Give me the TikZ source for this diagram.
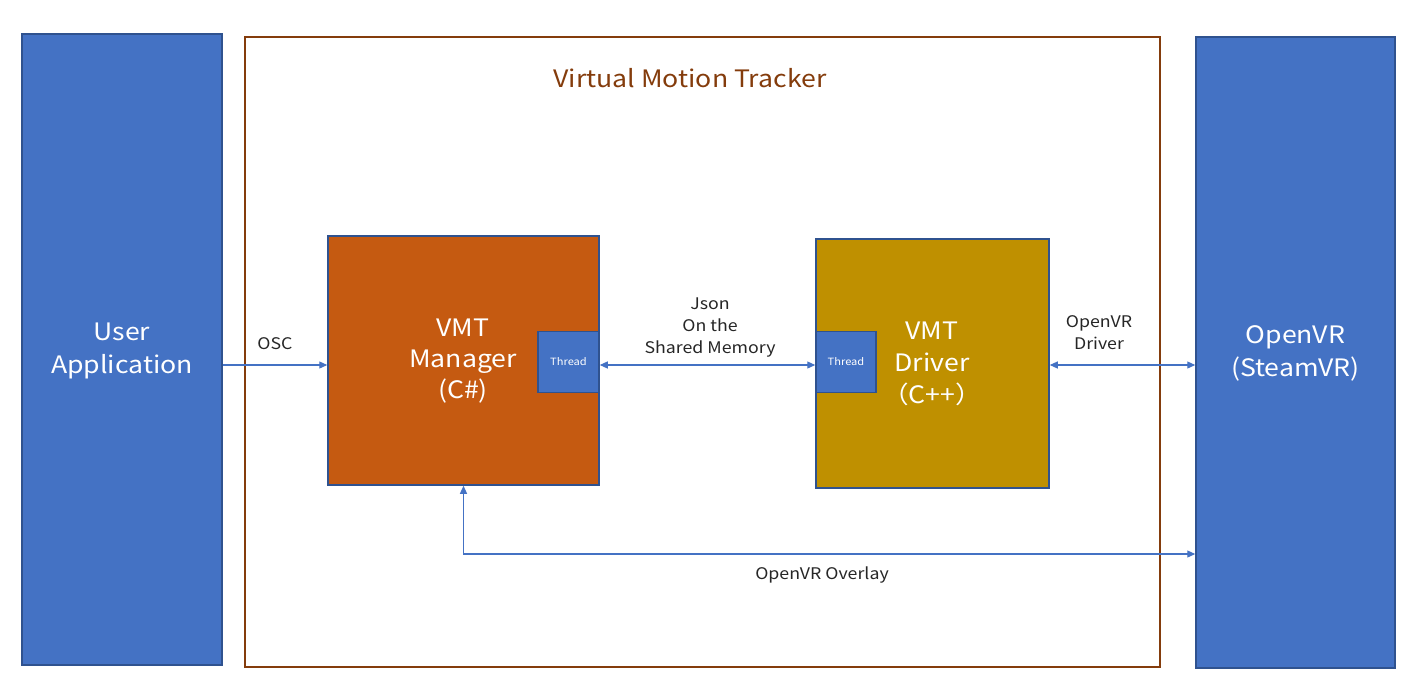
\documentclass[tikz,border=0pt]{standalone}
\usepackage{fontspec}
\setmainfont[FakeStretch=1.11]{Noto Sans CJK JP}
\usetikzlibrary{arrows.meta}
\definecolor{bfill}{HTML}{4472C4}
\definecolor{bline}{HTML}{2F528F}
\definecolor{ofill}{HTML}{C55A11}
\definecolor{gfill}{HTML}{BF9000}
\definecolor{brown}{HTML}{843C0C}
\definecolor{txt}{HTML}{262626}
\tikzset{
  bigbox/.style={draw=bline, line width=1.5pt, inner sep=0pt, text=white, align=center,
    font=\fontsize{24}{33}\selectfont},
  thrbox/.style={draw=bline, line width=1.5pt, fill=bfill, inner sep=0pt, text=white,
    minimum width=61pt, minimum height=61pt, font=\fontsize{10}{12}\selectfont},
  lbl/.style={text=txt, align=center, font=\fontsize{16}{22}\selectfont, inner sep=0pt},
  arr/.style={draw=bfill, line width=1.2pt, -{Triangle[length=8pt,width=7pt]}},
  darr/.style={draw=bfill, line width=1.2pt, {Triangle[length=8pt,width=7pt]}-{Triangle[length=8pt,width=7pt]}}
}
\begin{document}
\begin{tikzpicture}[x=1pt,y=-1pt]
\useasboundingbox[fill=white] (0,0) rectangle (1405,694);
% outer frame
\node[draw=brown, line width=1.5pt, minimum width=915pt, minimum height=630pt, inner sep=0pt] (frame) at (702.5,352) {};
\node[text=brown, font=\fontsize{24}{30}\selectfont, inner sep=0pt] (title) at (690,78) {Virtual Motion Tracker};
% side boxes
\node[bigbox, fill=bfill, minimum width=200pt, minimum height=631pt] (ua) at (122,349.5) {};
\node[text=white, align=center, font=\fontsize{24}{33}\selectfont, inner sep=0pt] (uat) at (122,350.5) {User\\Application};
\node[bigbox, fill=bfill, minimum width=199pt, minimum height=631pt] (ovr) at (1295.5,352.5) {};
\node[text=white, align=center, font=\fontsize{24}{33}\selectfont, inner sep=0pt] (ovrt) at (1295.5,353) {OpenVR\\(SteamVR)};
% manager / driver
\node[bigbox, fill=ofill, minimum width=271pt, minimum height=249pt] (mgr) at (463.5,360.5) {};
\node[text=white, align=center, font=\fontsize{24}{31}\selectfont, inner sep=0pt] (mgrt) at (463,361) {VMT\\Manager\\(C\#)};
\node[bigbox, fill=gfill, minimum width=233pt, minimum height=249pt] (drv) at (932.5,363.5) {};
\node[text=white, align=center, font=\fontsize{24}{32}\selectfont, inner sep=0pt] (drvt) at (932,363.5) {VMT\\Driver\\（C++）};
\node[thrbox] (thr1) at (568.5,362) {Thread};
\node[thrbox, minimum width=60pt] (thr2) at (846,362) {Thread};
% connectors
\draw[arr] (ua.east |- 0,365) -- (mgr.west |- 0,365);
\node[lbl] (osc) at (275,343.5) {OSC};
\draw[darr] (thr1.east |- 0,365) -- (thr2.west |- 0,365);
\node[lbl] (json) at (710,327.5) {Json\\On the\\Shared Memory};
\draw[darr] (drv.east |- 0,365) -- (ovr.west |- 0,365);
\node[lbl] (ovd) at (1099,333) {OpenVR\\Driver};
\draw[darr] (mgr.south) |- (ovr.west |- 0,554);
\node[lbl] (ovl) at (822,575) {OpenVR Overlay};
\end{tikzpicture}
\end{document}
